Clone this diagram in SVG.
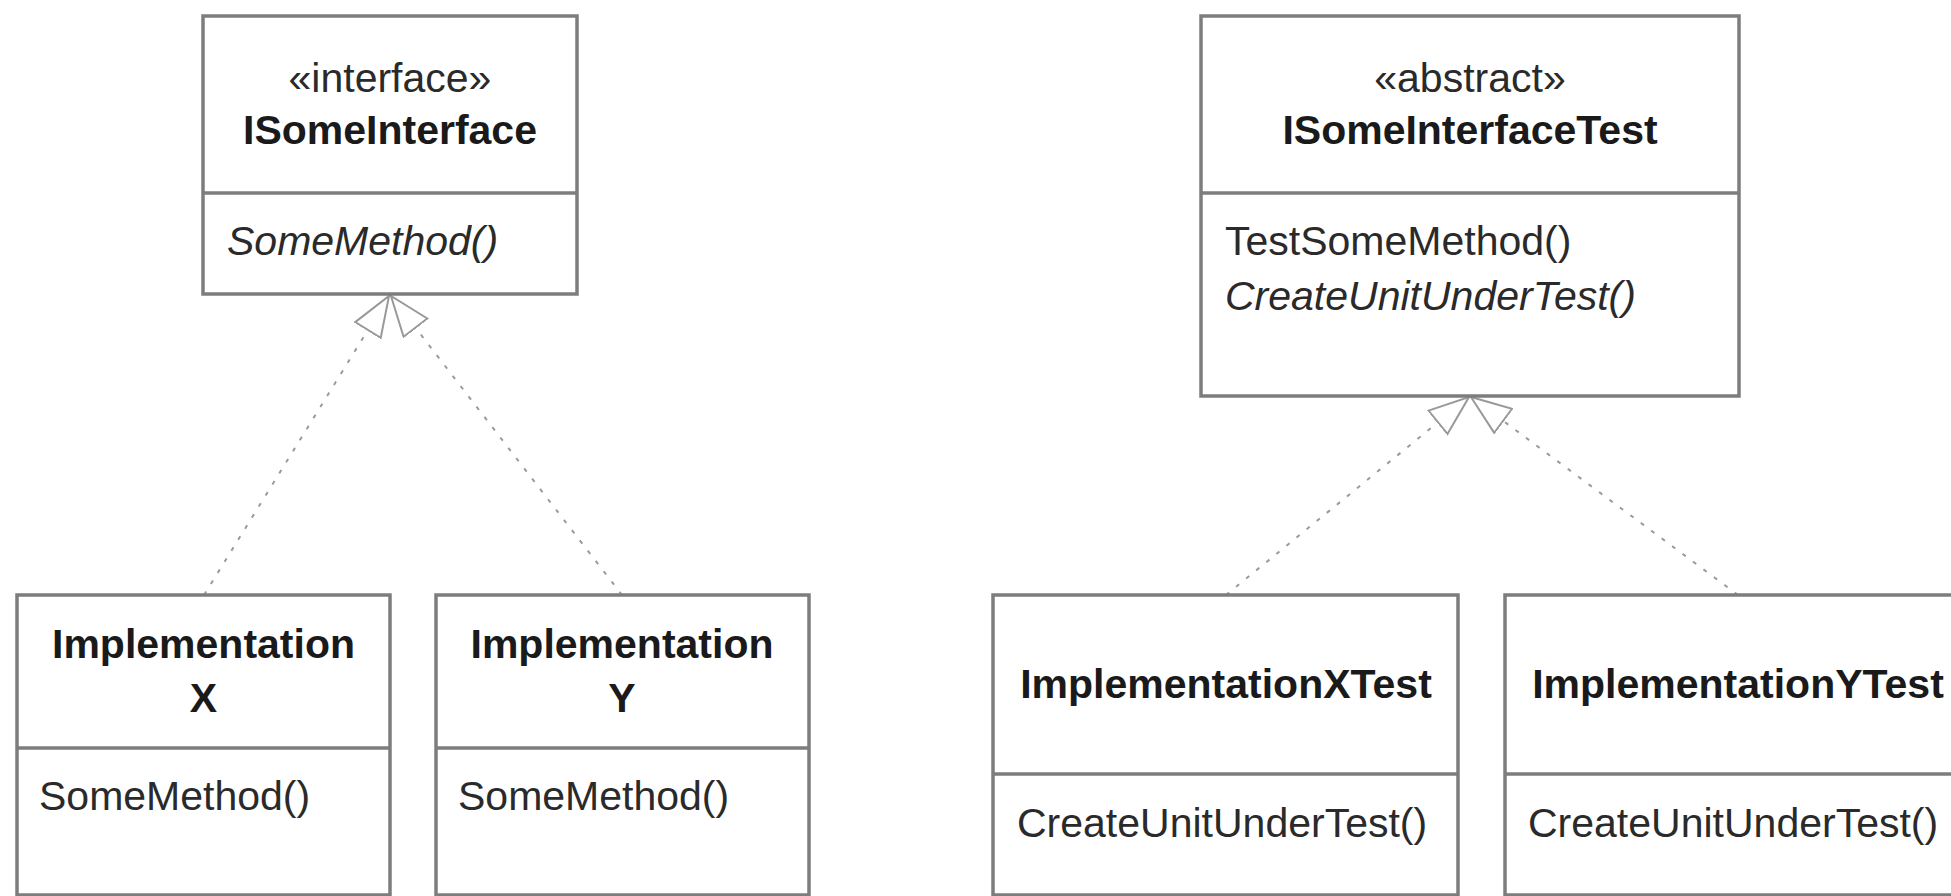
<svg xmlns="http://www.w3.org/2000/svg" width="1951" height="896" viewBox="0 0 1951 896">
<defs>
<style>
.box{fill:#fff;stroke:#7d7d7d;stroke-width:3.5}
.div{stroke:#7d7d7d;stroke-width:3.5}
.t{font-family:"Liberation Sans",Arial,sans-serif;font-size:41px;fill:#2a2a2a}
.c{text-anchor:middle}
.b{font-weight:bold;fill:#1a1a1a}
.i{font-style:italic}
.dash{fill:none;stroke:#9a9a9a;stroke-width:2;stroke-dasharray:4 9;marker-end:url(#tri)}
</style>
<marker id="tri" markerUnits="userSpaceOnUse" markerWidth="44" markerHeight="34" refX="41" refY="16" orient="auto">
<path d="M1,1 L41,16 L1,31 Z" fill="#fff" stroke="#999" stroke-width="2"/>
</marker>
</defs>
<g id="connectors">
<line class="dash" x1="204" y1="595" x2="389" y2="296"/>
<line class="dash" x1="622" y1="595" x2="391" y2="296"/>
<line class="dash" x1="1226" y1="595" x2="1469" y2="397"/>
<line class="dash" x1="1738" y1="595" x2="1471" y2="397"/>
</g>
<g id="ISomeInterface">
<rect class="box" x="203" y="16" width="374" height="278"/>
<line class="div" x1="203" y1="193" x2="577" y2="193"/>
<text class="t c" x="390" y="92">«interface»</text>
<text class="t c b" x="390" y="144">ISomeInterface</text>
<text class="t i" x="227" y="255">SomeMethod()</text>
</g>
<g id="ISomeInterfaceTest">
<rect class="box" x="1201" y="16" width="538" height="380"/>
<line class="div" x1="1201" y1="193" x2="1739" y2="193"/>
<text class="t c" x="1470" y="92">«abstract»</text>
<text class="t c b" x="1470" y="144">ISomeInterfaceTest</text>
<text class="t" x="1225" y="255">TestSomeMethod()</text>
<text class="t i" x="1225" y="310">CreateUnitUnderTest()</text>
</g>
<g id="ImplementationX">
<rect class="box" x="17" y="595" width="373" height="300"/>
<line class="div" x1="17" y1="748" x2="390" y2="748"/>
<text class="t c b" x="203.5" y="658">Implementation</text>
<text class="t c b" x="203.5" y="712">X</text>
<text class="t" x="39" y="810">SomeMethod()</text>
</g>
<g id="ImplementationY">
<rect class="box" x="436" y="595" width="373" height="300"/>
<line class="div" x1="436" y1="748" x2="809" y2="748"/>
<text class="t c b" x="622" y="658">Implementation</text>
<text class="t c b" x="622" y="712">Y</text>
<text class="t" x="458" y="810">SomeMethod()</text>
</g>
<g id="ImplementationXTest">
<rect class="box" x="993" y="595" width="465" height="300"/>
<line class="div" x1="993" y1="774" x2="1458" y2="774"/>
<text class="t c b" x="1226" y="698">ImplementationXTest</text>
<text class="t" x="1017" y="837">CreateUnitUnderTest()</text>
</g>
<g id="ImplementationYTest">
<rect class="box" x="1505" y="595" width="470" height="300"/>
<line class="div" x1="1505" y1="774" x2="1975" y2="774"/>
<text class="t c b" x="1738" y="698">ImplementationYTest</text>
<text class="t" x="1528" y="837">CreateUnitUnderTest()</text>
</g>
</svg>
